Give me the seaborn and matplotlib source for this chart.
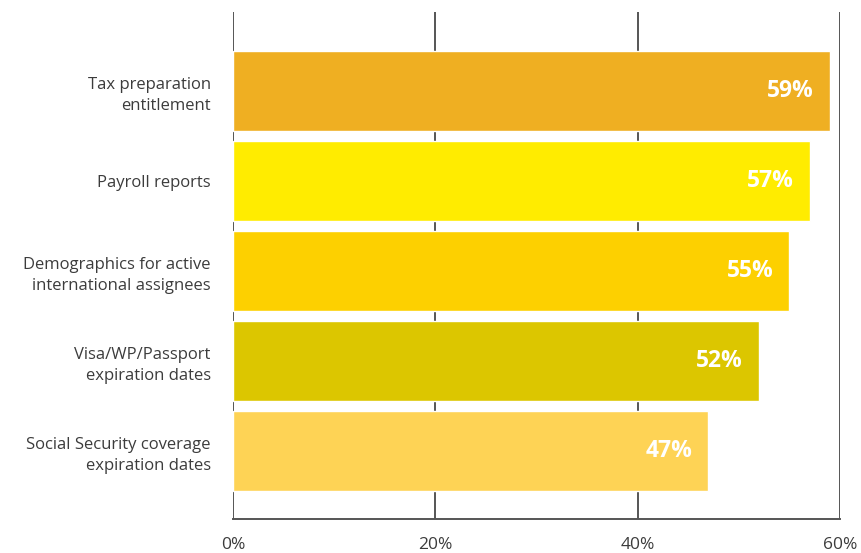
import matplotlib
matplotlib.use("Agg")
import matplotlib.pyplot as plt
import seaborn as sns
import pandas as pd

categories = [
    "Tax preparation\nentitlement",
    "Payroll reports",
    "Demographics for active\ninternational assignees",
    "Visa/WP/Passport\nexpiration dates",
    "Social Security coverage\nexpiration dates",
]
values = [59, 57, 55, 52, 47]
colors = ["#EFAF22", "#FFEC00", "#FDD000", "#DCC600", "#FED355"]
x_ticks = [0, 20, 40, 60]
x_tick_labels = ["0%", "20%", "40%", "60%"]

sns.set_theme(style="white")
plt.rcParams["font.family"] = ["Open Sans", "DejaVu Sans"]

df = pd.DataFrame({"category": categories, "value": values})

fig = plt.figure(figsize=(8.62, 5.53), dpi=100)
ax = fig.add_axes([0.2703, 0.0615, 0.7042, 0.9168])

sns.barplot(data=df, x="value", y="category", hue="category",
            palette=colors, width=0.89, legend=False, ax=ax,
            saturation=1, zorder=3)

ax.set_xlim(0, 60)
ax.set_ylim(4.756, -0.878)
ax.set_xticks(x_ticks)
ax.set_xticklabels(x_tick_labels, fontsize=12.5, color="#3c3c3c")
ax.set_xlabel("")
ax.set_ylabel("")

# vertical gridlines at each tick
for t in x_ticks:
    ax.axvline(t, color="#555555", lw=1.4, zorder=1)

for side in ["top", "right", "left"]:
    ax.spines[side].set_visible(False)
ax.spines["bottom"].set_color("#555555")
ax.spines["bottom"].set_linewidth(1.4)

ax.tick_params(axis="x", length=0, pad=13)
ax.tick_params(axis="y", length=0, pad=16)
for lbl in ax.get_yticklabels():
    lbl.set_fontsize(12)
    lbl.set_color("#3c3c3c")
    lbl.set_linespacing(1.4)
    lbl.set_horizontalalignment("right")
    lbl.set_multialignment("right")

# value labels inside the bar ends
for i, v in enumerate(values):
    ax.text(v - 1.6, i, f"{v}%", ha="right", va="center",
            color="white", fontsize=16.5, fontweight="bold", zorder=4)

fig.savefig("out.png", dpi=100)
